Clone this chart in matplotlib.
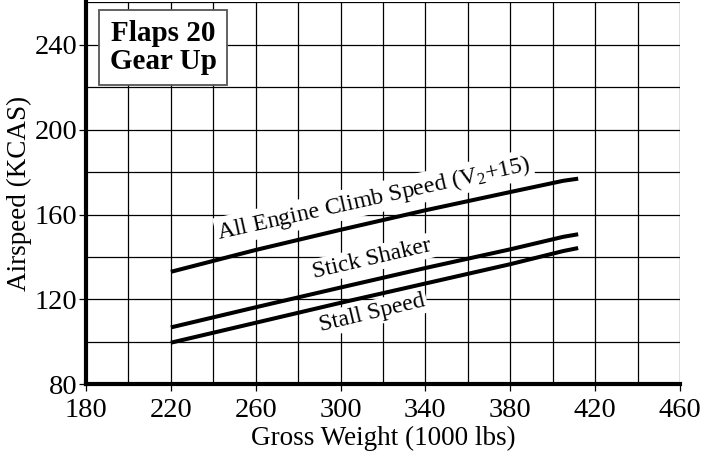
import matplotlib
matplotlib.use("Agg")
import matplotlib.pyplot as plt
from matplotlib.ticker import MultipleLocator

plt.rcParams['font.family'] = ['Liberation Serif', 'DejaVu Serif']
plt.rcParams['mathtext.fontset'] = 'custom'
plt.rcParams['mathtext.rm'] = 'Liberation Serif'
plt.rcParams['mathtext.it'] = 'Liberation Serif:italic'
plt.rcParams['mathtext.bf'] = 'Liberation Serif:bold'

# Data (gross weight in 1000 lbs, airspeed in KCAS)
weight = [220, 260, 300, 340, 380, 405, 412]
climb_speed = [133.0, 143.3, 152.8, 162.0, 170.6, 175.9, 176.9]
stick_shaker = [106.8, 116.3, 125.6, 134.8, 143.6, 149.5, 150.7]
stall_speed = [99.6, 109.0, 118.4, 127.5, 136.6, 142.8, 144.2]

x_ticks = [180, 220, 260, 300, 340, 380, 420, 460]
y_ticks = [80, 120, 160, 200, 240]

fig = plt.figure(figsize=(7.01, 4.54), dpi=100)
ax = fig.add_axes([86/701, 1-384.3/454, (680-86)/701, (384.3-2.3)/454])

ax.set_xlim(180, 460)
ax.set_ylim(80, 260)
ax.set_xticks(x_ticks)
ax.set_yticks(y_ticks)
ax.xaxis.set_minor_locator(MultipleLocator(20))
ax.yaxis.set_minor_locator(MultipleLocator(20))
ax.grid(which='both', color='black', linewidth=0.9, zorder=1)
ax.set_axisbelow(True)

for s in ['top', 'right']:
    ax.spines[s].set_visible(False)
for s in ['left', 'bottom']:
    ax.spines[s].set_linewidth(3.0)
    ax.spines[s].set_capstyle('projecting')
    ax.spines[s].set_zorder(5)

ax.tick_params(which='major', direction='out', length=5, width=0.9, labelsize=20.5, color='black')
ax.tick_params(axis='x', which='major', pad=5)
ax.tick_params(axis='y', which='major', pad=1)
ax.tick_params(which='minor', length=0)

lw = 2.9
ax.plot(weight, climb_speed, color='black', lw=lw, solid_capstyle='butt', zorder=3)
ax.plot(weight, stick_shaker, color='black', lw=lw, solid_capstyle='butt', zorder=3)
ax.plot(weight, stall_speed, color='black', lw=lw, solid_capstyle='butt', zorder=3)

bb = dict(facecolor='white', edgecolor='none', pad=1.5)
ax.text(315.8, 167.7, 'All Engine Climb Speed (V$_2$+15)', fontsize=17.2, rotation=12.5,
        rotation_mode='anchor', ha='center', va='center', bbox=bb, zorder=4)
ax.text(314.8, 139.2, 'Stick Shaker', fontsize=17.2, rotation=13,
        rotation_mode='anchor', ha='center', va='center', bbox=bb, zorder=4)
ax.text(314.8, 113.6, 'Stall Speed', fontsize=17.2, rotation=13.5,
        rotation_mode='anchor', ha='center', va='center', bbox=bb, zorder=4)

ax.text(216.3, 238.7, 'Flaps 20\nGear Up', fontsize=21, fontweight='bold',
        ha='center', va='center', linespacing=1.05, zorder=4,
        bbox=dict(boxstyle='square,pad=0.35', facecolor='white', edgecolor='#555555', linewidth=1.3))

ax.set_xlabel('Gross Weight (1000 lbs)', fontsize=19.5, labelpad=2)
ax.set_ylabel('Airspeed (KCAS)', fontsize=19.5, labelpad=2)

fig.savefig('out.png', dpi=100)
